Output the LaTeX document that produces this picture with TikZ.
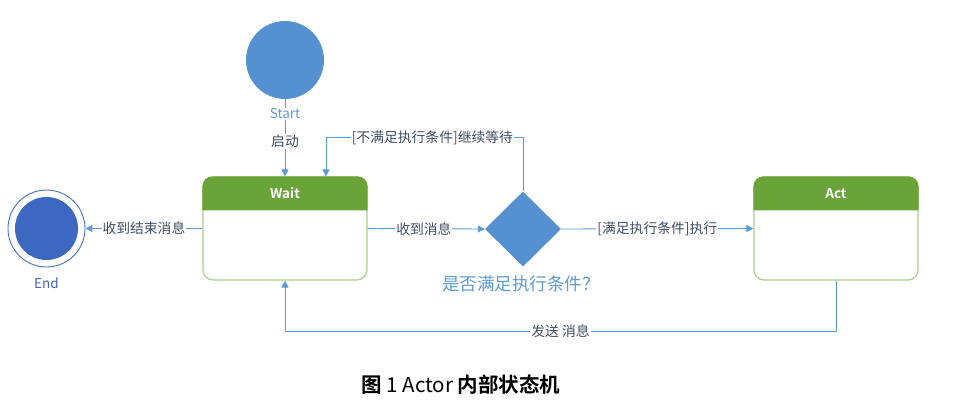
\documentclass[tikz,border=0pt]{standalone}
\usepackage{fontspec}
\setmainfont{Noto Sans CJK SC}
\newfontfamily\cjkbold{Noto Sans CJK SC Bold}
\usetikzlibrary{arrows.meta,shapes.geometric,positioning}
\definecolor{lineblue}{HTML}{5B9BD5}
\definecolor{startblue}{HTML}{5591D0}
\definecolor{endblue}{HTML}{3D68C2}
\definecolor{ringblue}{HTML}{4472C4}
\definecolor{hdrgreen}{HTML}{6AA338}
\definecolor{bordergreen}{HTML}{A8D08D}
\definecolor{lbltext}{HTML}{3F4D63}
\definecolor{endtext}{HTML}{4A5FC1}
\tikzset{
  conn/.style={draw=lineblue, line width=0.9pt, -{Triangle[length=7pt,width=7pt]}},
  plain/.style={draw=lineblue, line width=0.9pt},
  lbl/.style={fill=white, text=lbltext, font=\fontsize{13.8}{14}\selectfont, inner sep=1pt},
  statebox/.style={draw=bordergreen, line width=1.2pt, rounded corners=10pt, minimum width=164pt, minimum height=103pt, inner sep=0pt},
  hdrtext/.style={text=white, font=\cjkbold\fontsize{13.5}{14}\selectfont},
}
\begin{document}
\begin{tikzpicture}[x=1pt,y=-1pt]
\useasboundingbox[fill=white] (0,0) rectangle (960,410);
% nodes
\node[circle, fill=startblue, minimum size=78pt, inner sep=0pt] (start) at (285,60) {};
\node[text=lineblue, font=\fontsize{13.5}{14}\selectfont, fill=white, inner sep=1pt] (startlbl) at (285,114) {Start};
\node[statebox] (wait) at (285,228.5) {};
\node[statebox] (act) at (836,228.5) {};
\node[diamond, fill=startblue, minimum width=76pt, minimum height=75pt, inner sep=0pt] (dia) at (523,229) {};
\node[text=lineblue, font=\fontsize{17.5}{18}\selectfont] (dialbl) at (521,284) {是否满足执行条件？};
\node[circle, draw=ringblue, line width=0.9pt, minimum size=77pt, inner sep=0pt] (end) at (46.5,228.5) {};
\node[circle, fill=endblue, minimum size=63pt, inner sep=0pt] (endin) at (46.5,228.5) {};
\node[text=endtext, font=\fontsize{13.5}{14}\selectfont] (endlbl) at (46.5,283) {End};
% headers
\fill[hdrgreen] ([yshift=-34]wait.north west) [rounded corners=10pt] -- (wait.north west) -- (wait.north east) [sharp corners] -- ([yshift=-34]wait.north east) -- cycle;
\fill[hdrgreen] ([yshift=-34]act.north west) [rounded corners=10pt] -- (act.north west) -- (act.north east) [sharp corners] -- ([yshift=-34]act.north east) -- cycle;
\node[hdrtext] (waitt) at ([yshift=-17]wait.north) {Wait};
\node[hdrtext] (actt) at ([yshift=-17]act.north) {Act};
% connectors
\draw[plain] (start.south) -- (startlbl.north);
\draw[conn] (startlbl.south) -- (wait.north) node[pos=0.38, lbl] {启动};
\draw[conn] (wait.west) -- (end.east) node[midway, lbl] {收到结束消息};
\draw[conn] (wait.east) -- (dia.west) node[pos=0.48, lbl] {收到消息};
\draw[conn] (dia.east) -- (act.west) node[midway, lbl] {[满足执行条件]执行};
\coordinate (waitin) at ([xshift=41]wait.north);
\draw[conn] (dia.north) -- ++(0,-53.5) -| (waitin) node[pos=0.23, lbl] {[不满足执行条件]继续等待};
\draw[conn] (act.south) -- ++(0,51) -| (wait.south) node[pos=0.25, lbl] {发送 消息};
% caption
\node[text=black, font=\fontsize{20.5}{21}\selectfont] (cap) at (461,385) {{\cjkbold 图} 1 Actor {\cjkbold 内部状态机}};
\end{tikzpicture}
\end{document}
